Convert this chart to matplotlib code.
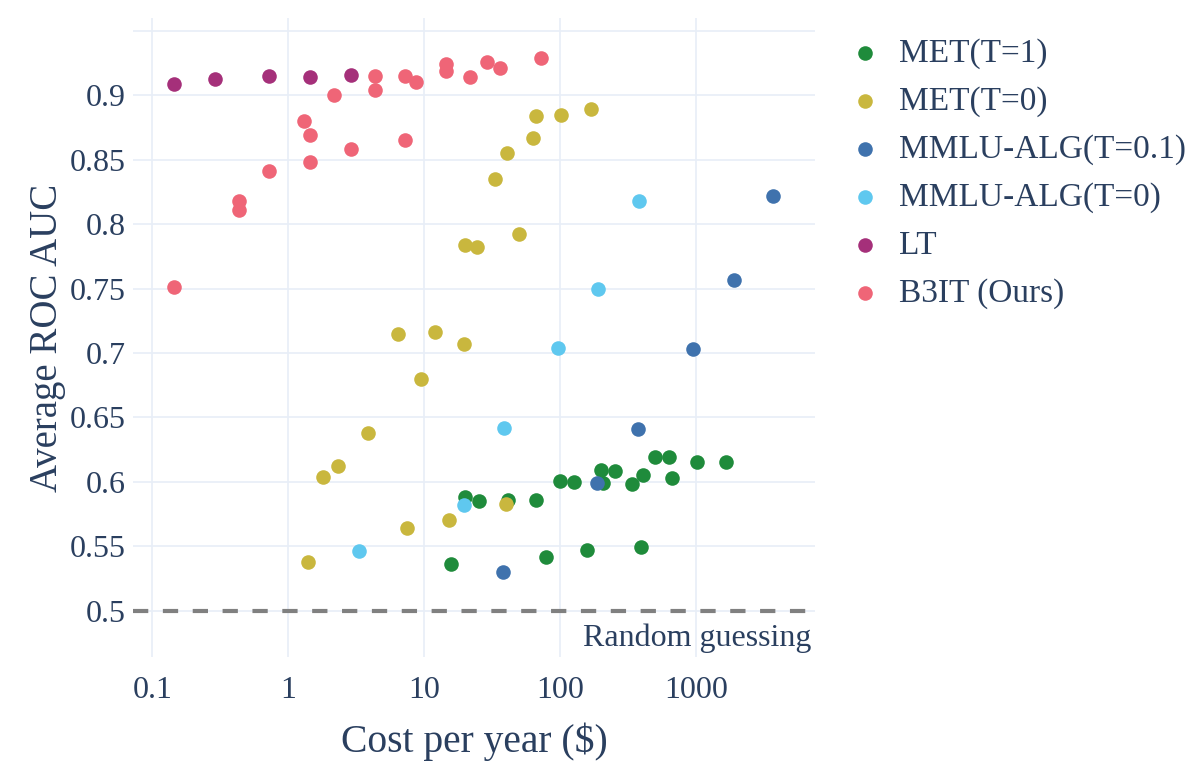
import matplotlib.pyplot as plt

plt.rcParams['font.family'] = ['Liberation Serif', 'DejaVu Serif']
plt.rcParams['lines.scale_dashes'] = False

TEXT = '#2a3f5f'
GRID = '#e8eef7'

# cost per year ($) and average ROC AUC
met_t1_cost = [19.9, 25.4, 41.1, 66.7, 100, 126, 200, 206, 255, 337,
               410, 503, 630, 670, 1023, 1672, 15.8, 78.8, 158, 397]
met_t1_auc = [0.588, 0.585, 0.586, 0.586, 0.601, 0.600, 0.609, 0.599, 0.608, 0.598,
              0.605, 0.619, 0.619, 0.603, 0.615, 0.615, 0.536, 0.542, 0.547, 0.549]

met_t0_cost = [66.2, 102, 168, 63.2, 40.5, 33.0, 50.1, 19.9, 24.6,
               6.45, 12.1, 19.5, 9.48, 3.89, 2.31, 1.80, 40.2, 15.3, 7.45, 1.39]
met_t0_auc = [0.884, 0.885, 0.889, 0.867, 0.855, 0.835, 0.792, 0.784, 0.782,
              0.715, 0.716, 0.707, 0.680, 0.638, 0.612, 0.604, 0.583, 0.570, 0.564, 0.538]

mmlu_t01_cost = [3680, 1900, 949, 377, 188, 37.8]
mmlu_t01_auc = [0.822, 0.757, 0.703, 0.641, 0.599, 0.530]

mmlu_t0_cost = [380, 191, 96, 38.5, 19.5, 3.34]
mmlu_t0_auc = [0.818, 0.750, 0.704, 0.642, 0.582, 0.546]

lt_cost = [0.145, 0.291, 0.726, 1.456, 2.90]
lt_auc = [0.909, 0.913, 0.915, 0.914, 0.916]

b3it_cost = [4.35, 7.23, 8.71, 14.5, 14.5, 21.8, 29.0, 36.2, 72.8, 2.18, 4.35,
             1.31, 1.456, 2.90, 7.23, 1.456, 0.726, 0.434, 0.434, 0.145]
b3it_auc = [0.915, 0.915, 0.910, 0.924, 0.919, 0.914, 0.926, 0.921, 0.929, 0.900, 0.904,
            0.880, 0.869, 0.858, 0.865, 0.848, 0.841, 0.818, 0.811, 0.751]

series = [
    ('MET(T=1)', met_t1_cost, met_t1_auc, '#1f8b3b'),
    ('MET(T=0)', met_t0_cost, met_t0_auc, '#c9b73e'),
    ('MMLU-ALG(T=0.1)', mmlu_t01_cost, mmlu_t01_auc, '#3f72ad'),
    ('MMLU-ALG(T=0)', mmlu_t0_cost, mmlu_t0_auc, '#5fc8ef'),
    ('LT', lt_cost, lt_auc, '#a5307a'),
    ('B3IT (Ours)', b3it_cost, b3it_auc, '#ef6577'),
]

x_ticks = [0.1, 1, 10, 100, 1000]
x_labels = ['0.1', '1', '10', '100', '1000']
y_ticks = [0.5, 0.55, 0.6, 0.65, 0.7, 0.75, 0.8, 0.85, 0.9, 0.95]
y_labels = ['0.5', '0.55', '0.6', '0.65', '0.7', '0.75', '0.8', '0.85', '0.9', '']

fig = plt.figure(figsize=(12, 7.84), dpi=100)
ax = fig.add_axes([0.1108, 0.162, 0.5683, 0.815])

for name, cost, auc, color in series:
    ax.scatter(cost, auc, s=110, color=color, label=name, linewidths=0, zorder=3)

ax.axhline(0.5, color='#808080', lw=3, ls=(0, (11, 10.5)), zorder=2)
ax.text(0.995, 0.03, 'Random guessing', transform=ax.transAxes, ha='right', va='center',
        fontsize=23, color=TEXT)

ax.set_xscale('log')
ax.set_xlim(0.072, 7500)
ax.set_ylim(0.464, 0.96)
ax.set_xticks(x_ticks)
ax.set_xticklabels(x_labels)
ax.minorticks_off()
ax.set_yticks(y_ticks)
ax.set_yticklabels(y_labels)
ax.grid(True, color=GRID, lw=1.2, zorder=0)
ax.set_axisbelow(True)
for sp in ax.spines.values():
    sp.set_visible(False)
ax.tick_params(axis='both', length=0, labelsize=23, labelcolor=TEXT)
ax.tick_params(axis='x', pad=14)
ax.tick_params(axis='y', pad=5)

ax.set_xlabel('Cost per year ($)', fontsize=28.5, color=TEXT, labelpad=12)
ax.set_ylabel('Average ROC AUC', fontsize=28, color=TEXT, labelpad=3)

ax.legend(loc='upper left', bbox_to_anchor=(1.025, 0.99), frameon=False, fontsize=24,
          labelcolor=TEXT, handletextpad=0.4, labelspacing=0.52, borderaxespad=0,
          markerscale=1.0, handlelength=1.2)

fig.savefig('out.png', dpi=100, facecolor='white')
